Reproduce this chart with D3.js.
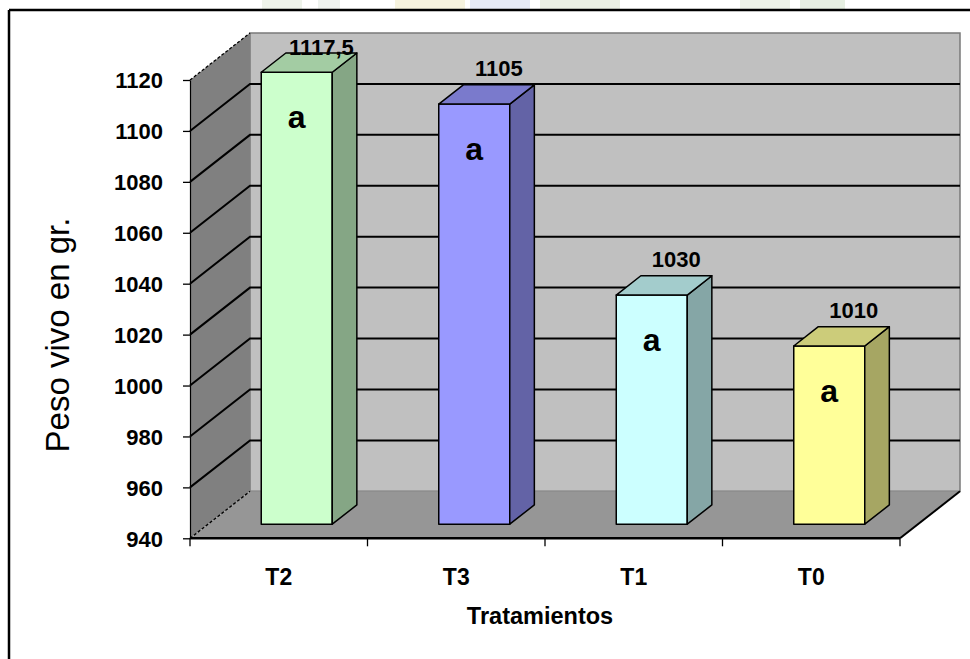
<!DOCTYPE html>
<html>
<head>
<meta charset="utf-8">
<script src="https://cdn.jsdelivr.net/npm/d3@7/dist/d3.min.js"></script>
<style>
  html, body { margin: 0; padding: 0; background: #ffffff; }
  svg { display: block; }
  text { font-family: "Liberation Sans", Arial, sans-serif; fill: #000; }
</style>
</head>
<body>
<svg id="chart" width="970" height="659"></svg>
<script>
// Live weight per treatment (grams)
const categories = ["T2", "T3", "T1", "T0"];
const values = [1117.5, 1105, 1030, 1010];
const letters = ["a", "a", "a", "a"];
const frontColors = ["#ccffcc", "#9999ff", "#ccffff", "#ffff99"];
const yTicks = [940, 960, 980, 1000, 1020, 1040, 1060, 1080, 1100, 1120];

const svg = d3.select("#chart");
const W = 970, H = 659;

// Front plane of the 3D box
const x0 = 190, x1 = 900;
const yMin = 940, yMax = 1120;
const y = d3.scaleLinear().domain([yMin, yMax]).range([538.3, 80]);
const xBand = d3.scaleBand().domain(categories).range([x0, x1])
  .paddingInner(0.6).paddingOuter(0.3);

// Depth of the box and of each bar (fractions of full depth)
const DX = 60, DY = -47;
const barD0 = 0.3, barD1 = 0.71;
const proj = (px, v, d) => [px + d * DX, y(v) + d * DY];
const pts = arr => arr.map(p => p.join(",")).join(" ");

// Faint header decoration above the frame
const deco = svg.append("g");
[[262, 40, "#eef3ea"], [318, 22, "#eef2ee"], [395, 70, "#f6f3de"], [470, 60, "#e6ebf6"],
 [540, 80, "#eaf0e4"], [740, 50, "#edf3e8"], [800, 45, "#e6efe2"]].forEach(([xx, w, c]) => {
  deco.append("rect").attr("x", xx).attr("y", 0).attr("width", w).attr("height", 9).attr("fill", c);
});

// Chart frame
svg.append("line").attr("x1", 9).attr("y1", 10).attr("x2", W).attr("y2", 10)
  .attr("stroke", "#000").attr("stroke-width", 2.5);
svg.append("line").attr("x1", 9).attr("y1", 10).attr("x2", 9).attr("y2", H)
  .attr("stroke", "#000").attr("stroke-width", 2.5);

const walls = svg.append("g");
// Back wall
walls.append("polygon")
  .attr("points", pts([proj(x0, yMax, 1), proj(x1, yMax, 1), proj(x1, yMin, 1), proj(x0, yMin, 1)]))
  .attr("fill", "#c0c0c0").attr("stroke", "#7a7a7a").attr("stroke-width", 1.5);
// Side wall
walls.append("polygon")
  .attr("points", pts([proj(x0, yMax, 0), proj(x0, yMax, 1), proj(x0, yMin, 1), proj(x0, yMin, 0)]))
  .attr("fill", "#808080");
// Floor
walls.append("polygon")
  .attr("points", pts([proj(x0, yMin, 0), proj(x0, yMin, 1), proj(x1, yMin, 1), proj(x1, yMin, 0)]))
  .attr("fill", "#969696");

// Gridlines on the back and side walls
const grid = svg.append("g");
yTicks.filter(v => v > yMin && v < yMax).forEach(v => {
  const a = proj(x0, v, 0), b = proj(x0, v, 1), c = proj(x1, v, 1);
  grid.append("polyline").attr("points", pts([a, b, c]))
    .attr("fill", "none").attr("stroke", "#000").attr("stroke-width", 2);
});
// Dashed top and bottom edges of the side wall
[yMax, yMin].forEach(v => {
  const a = proj(x0, v, 0), b = proj(x0, v, 1);
  grid.append("line").attr("x1", a[0]).attr("y1", a[1]).attr("x2", b[0]).attr("y2", b[1])
    .attr("stroke", "#000").attr("stroke-width", 1.3).attr("stroke-dasharray", "3,2");
});
// Floor right edge
{
  const a = proj(x1, yMin, 0), b = proj(x1, yMin, 1);
  grid.append("line").attr("x1", a[0]).attr("y1", a[1]).attr("x2", b[0]).attr("y2", b[1])
    .attr("stroke", "#000").attr("stroke-width", 2);
}

// Bars as 3D prisms
const shade = (c, k) => { const r = d3.rgb(c); return d3.rgb(r.r * k, r.g * k, r.b * k).toString(); };
const bars = svg.append("g");
categories.forEach((cat, i) => {
  const v = values[i];
  const xl = xBand(cat), xr = xBand(cat) + xBand.bandwidth();
  const fTL = proj(xl, v, barD0), fTR = proj(xr, v, barD0);
  const fBL = proj(xl, yMin, barD0), fBR = proj(xr, yMin, barD0);
  const bTL = proj(xl, v, barD1), bTR = proj(xr, v, barD1), bBR = proj(xr, yMin, barD1);
  const g = bars.append("g").attr("stroke", "#000").attr("stroke-width", 1.5).attr("stroke-linejoin", "round");
  g.append("polygon").attr("points", pts([fTL, fTR, fBR, fBL])).attr("fill", frontColors[i]);
  g.append("polygon").attr("points", pts([fTR, bTR, bBR, fBR])).attr("fill", shade(frontColors[i], 0.65));
  g.append("polygon").attr("points", pts([fTL, bTL, bTR, fTR])).attr("fill", shade(frontColors[i], 0.8));
});

// Value labels above the bars
const labels = svg.append("g");
const backTop = proj(x0, yMax, 1)[1];
categories.forEach((cat, i) => {
  const v = values[i];
  const cx = xBand(cat) + xBand.bandwidth() / 2;
  const top = proj(cx, v, barD1);
  labels.append("text")
    .attr("x", top[0]).attr("y", Math.max(top[1] - 9, backTop + 22))
    .attr("text-anchor", "middle").attr("font-size", 22).attr("font-weight", "bold")
    .text(String(v).replace(".", ","));
  const front = proj(cx, v, barD0);
  labels.append("text")
    .attr("x", front[0]).attr("y", front[1] + 56)
    .attr("text-anchor", "middle").attr("font-size", 32).attr("font-weight", "bold")
    .text(letters[i]);
});

// Value axis on the front edge
const yAxis = svg.append("g").attr("transform", `translate(${x0},0)`)
  .call(d3.axisLeft(y).tickValues(yTicks).tickSize(7).tickSizeOuter(0).tickPadding(20).tickFormat(d3.format("d")));
yAxis.select(".domain").attr("stroke", "#000").attr("stroke-width", 1.2);
yAxis.selectAll(".tick line").attr("stroke", "#000").attr("stroke-width", 1.3);
yAxis.selectAll(".tick text")
  .attr("font-family", "'Liberation Sans', Arial, sans-serif")
  .attr("font-size", 22).attr("font-weight", "bold").attr("fill", "#000").attr("dy", "0.36em");

// Category axis along the front of the floor
const xAxis = svg.append("g");
xAxis.append("line").attr("x1", x0).attr("y1", y(yMin)).attr("x2", x1).attr("y2", y(yMin))
  .attr("stroke", "#000").attr("stroke-width", 2.5);
const step = xBand.step();
d3.range(categories.length + 1).forEach(k => {
  const xx = x0 + k * step;
  xAxis.append("line").attr("x1", xx).attr("y1", y(yMin)).attr("x2", xx).attr("y2", y(yMin) + 8)
    .attr("stroke", "#000").attr("stroke-width", 1.3);
});
categories.forEach(cat => {
  xAxis.append("text")
    .attr("x", xBand(cat) + xBand.bandwidth() / 2).attr("y", 585)
    .attr("text-anchor", "middle").attr("font-size", 23).attr("font-weight", "bold")
    .text(cat);
});

// Axis titles
svg.append("text").attr("x", 540).attr("y", 624)
  .attr("text-anchor", "middle").attr("font-size", 23.5).attr("font-weight", "bold")
  .text("Tratamientos");
svg.append("text").attr("transform", "translate(68.5,335) rotate(-90)")
  .attr("text-anchor", "middle").attr("font-size", 33)
  .text("Peso vivo en gr.");
</script>
</body>
</html>
